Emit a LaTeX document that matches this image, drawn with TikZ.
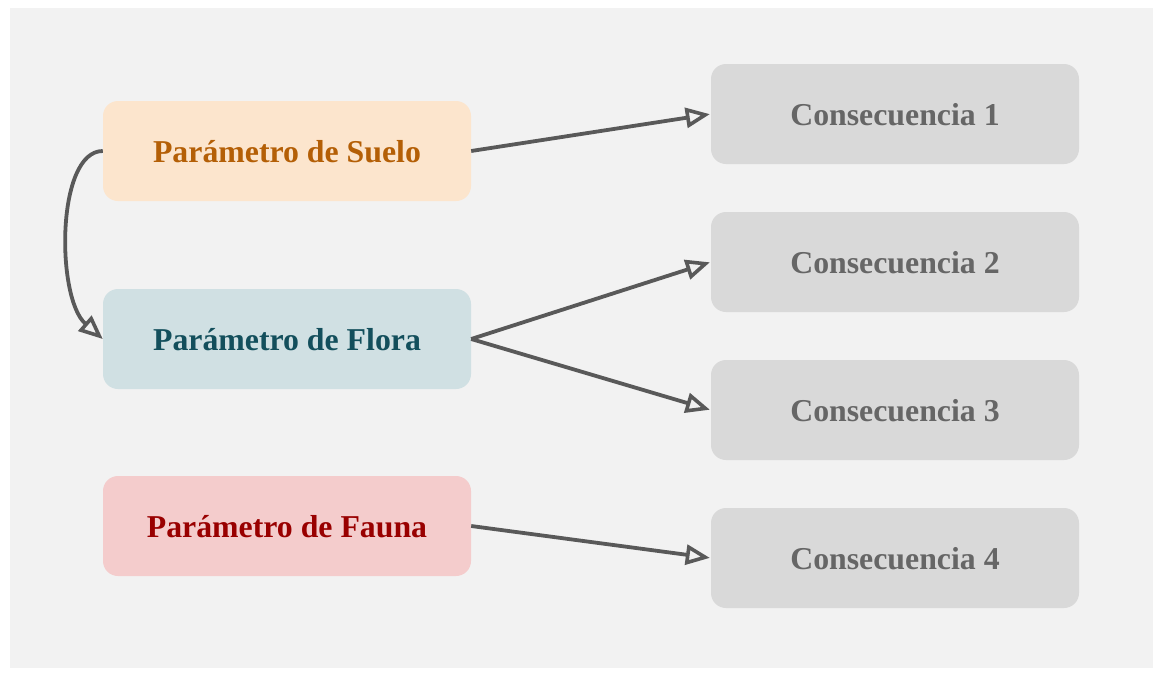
\documentclass[tikz,border=0pt]{standalone}
\usepackage{fontspec}
\setmainfont{Liberation Serif}
\usetikzlibrary{arrows.meta}
\definecolor{bgc}{HTML}{F2F2F2}
\definecolor{suelofill}{HTML}{FCE5CD}
\definecolor{suelotext}{HTML}{B45F06}
\definecolor{florafill}{HTML}{D0E0E3}
\definecolor{floratext}{HTML}{134F5C}
\definecolor{faunafill}{HTML}{F4CCCC}
\definecolor{faunatext}{HTML}{990000}
\definecolor{consfill}{HTML}{D9D9D9}
\definecolor{constext}{HTML}{666666}
\definecolor{arrc}{HTML}{595959}
\tikzset{
  box/.style={rectangle, rounded corners=15pt, minimum width=368pt, minimum height=100pt,
    inner sep=0pt, text height=22pt, text depth=0pt, font=\fontsize{31.8}{36}\selectfont\bfseries},
  par/.style={box, fill=#1fill, text=#1text},
  cons/.style={box, fill=consfill, text=constext},
  conn/.style={draw=arrc, line width=3.8pt, -{Triangle[open, length=24pt, width=20pt, line width=3.6pt]}}
}
\begin{document}
\begin{tikzpicture}[x=1pt, y=-1pt]
\useasboundingbox (0,0) rectangle (1160,675);
\fill[white] (0,0) rectangle (1160,675);
\fill[bgc] (10,8) rectangle (1153,668);
\node[par=suelo] (suelo) at (287,151) {Parámetro de Suelo};
\node[par=flora] (flora) at (287,339) {Parámetro de Flora};
\node[par=fauna] (fauna) at (287,526) {Parámetro de Fauna};
\node[cons] (c1) at (895,114) {Consecuencia 1};
\node[cons] (c2) at (895,262) {Consecuencia 2};
\node[cons] (c3) at (895,410) {Consecuencia 3};
\node[cons] (c4) at (895,558) {Consecuencia 4};
\draw[conn, shorten >=1pt] (suelo.east) -- (c1.west);
\draw[conn, shorten >=1pt] (flora.east) -- (c2.west);
\draw[conn, shorten >=1pt] (flora.east) -- (c3.west);
\draw[conn, shorten >=1pt] (fauna.east) -- (c4.west);
\draw[conn] (suelo.west) .. controls (56,151) and (56,298) .. (flora.west);
\end{tikzpicture}
\end{document}
